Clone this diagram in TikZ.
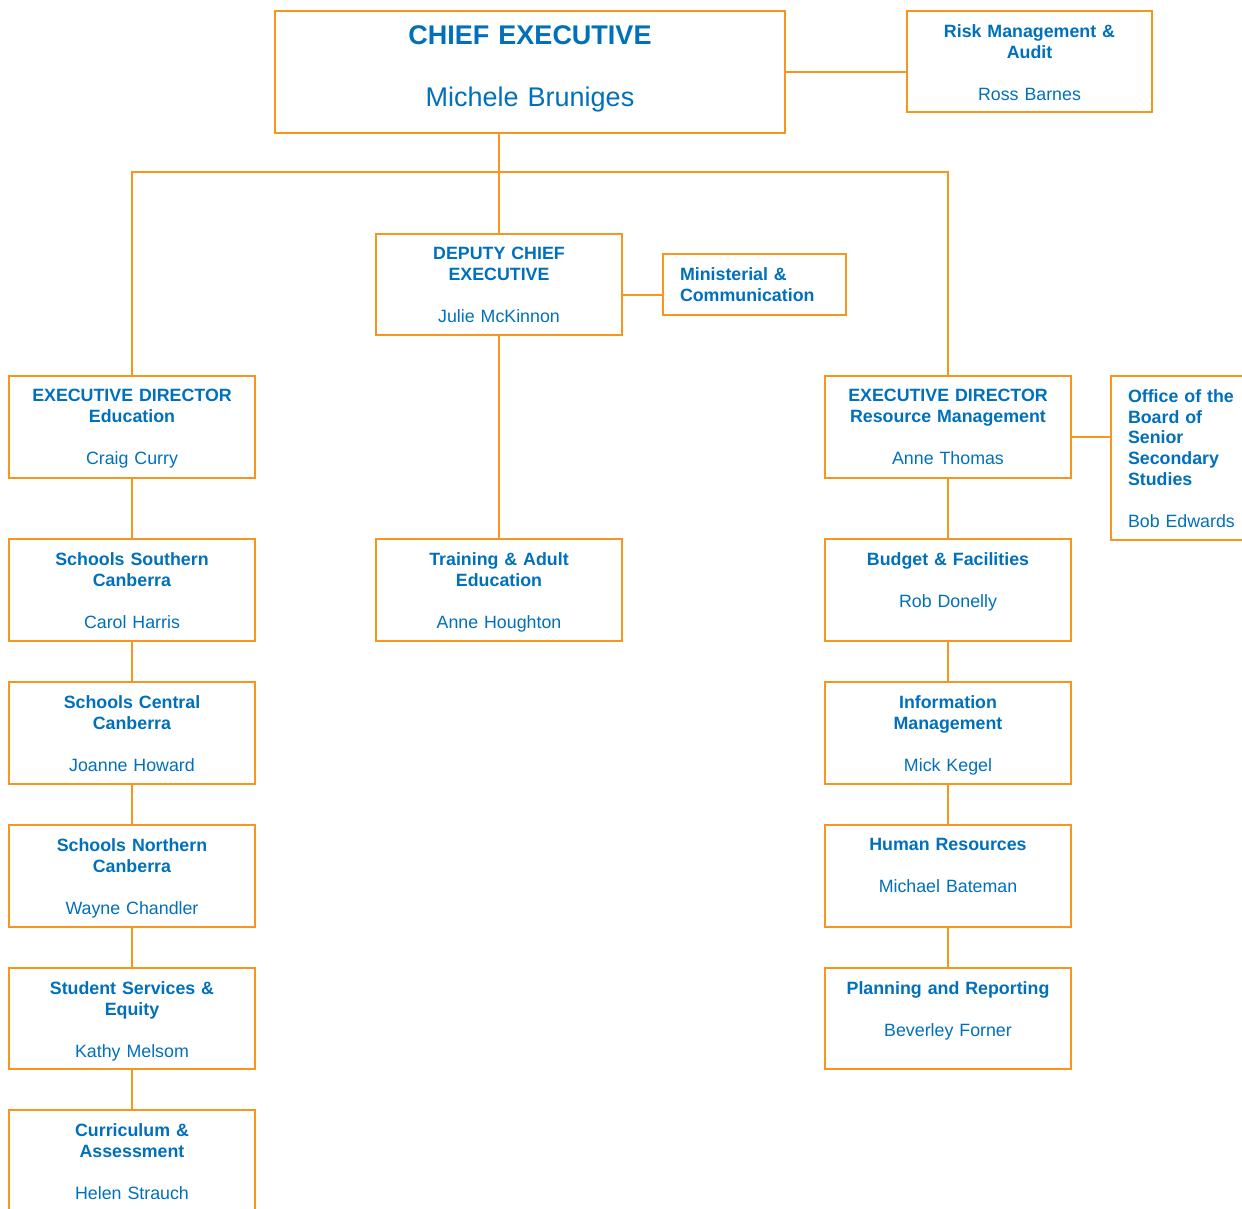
\documentclass[tikz,border=0pt]{standalone}
\usepackage{fontspec}
\setmainfont{Liberation Sans}
\definecolor{boxor}{RGB}{247,150,30}
\definecolor{txtblue}{RGB}{0,112,188}
\tikzset{
  unit/.style={draw=boxor, line width=1.6pt, fill=white, inner sep=0pt, outer sep=0pt},
  lbl/.style={anchor=north, inner sep=0pt, outer sep=0pt, text=txtblue,
    font=\fontsize{17.8}{20.7}\selectfont, align=center, text width=245pt},
  lbll/.style={lbl, anchor=north west, align=left},
  link/.style={draw=boxor, line width=1.8pt},
}
\newcommand{\gapname}{\\[21.3pt]}
\begin{document}
\begin{tikzpicture}[x=1pt,y=-1pt]
\clip (0,0) rectangle (1242,1208);
\fill[white] (0,0) rectangle (1242,1208);
% connectors
\coordinate (bus) at (499,172);
% boxes
\node[unit, minimum width=510pt, minimum height=122pt] (ce) at (530,72) {};
\node[unit, minimum width=245pt, minimum height=101pt] (risk) at (1029.5,61.5) {};
\node[unit, minimum width=246pt, minimum height=101pt] (dce) at (499,284.5) {};
\node[unit, minimum width=183pt, minimum height=61pt] (min) at (754.5,284.5) {};
\node[unit, minimum width=246pt, minimum height=102pt] (ede) at (132,427) {};
\node[unit, minimum width=246pt, minimum height=102pt] (edr) at (948,427) {};
\node[unit, minimum width=151pt, minimum height=164pt] (obs) at (1186.5,458) {};
\node[unit, minimum width=246pt, minimum height=102pt] (ssc) at (132,590) {};
\node[unit, minimum width=246pt, minimum height=102pt] (tae) at (499,590) {};
\node[unit, minimum width=246pt, minimum height=102pt] (bf) at (948,590) {};
\node[unit, minimum width=246pt, minimum height=102pt] (scc) at (132,733) {};
\node[unit, minimum width=246pt, minimum height=102pt] (im) at (948,733) {};
\node[unit, minimum width=246pt, minimum height=102pt] (snc) at (132,876) {};
\node[unit, minimum width=246pt, minimum height=102pt] (hr) at (948,876) {};
\node[unit, minimum width=246pt, minimum height=101pt] (sse) at (132,1018.5) {};
\node[unit, minimum width=246pt, minimum height=101pt] (pr) at (948,1018.5) {};
\node[unit, minimum width=246pt, minimum height=150pt] (ca) at (132,1185) {};
% links
\draw[link] (ce.south -| dce.north) -- (dce.north);
\draw[link] (ede.north) -- (ede.north |- bus) -- (edr.north |- bus) -- (edr.north);
\draw[link] (ce.east) -- (ce.east -| risk.west);
\draw[link] ([yshift=-10.5pt]dce.east) -- ([yshift=-10.5pt]dce.east -| min.west);
\draw[link] (dce.south) -- (tae.north);
\draw[link] ([yshift=-10pt]edr.east) -- ([yshift=-10pt]edr.east -| obs.west);
\draw[link] (ede.south) -- (ssc.north);
\draw[link] (ssc.south) -- (scc.north);
\draw[link] (scc.south) -- (snc.north);
\draw[link] (snc.south) -- (sse.north);
\draw[link] (sse.south) -- (ca.north);
\draw[link] (edr.south) -- (bf.north);
\draw[link] (bf.south) -- (im.north);
\draw[link] (im.south) -- (hr.north);
\draw[link] (hr.south) -- (pr.north);
% labels
\node[lbl, text width=510pt, font=\fontsize{27}{31}\selectfont] (tce) at ([yshift=-14.5pt]ce.north)
  {\textbf{CHIEF EXECUTIVE}\\[31.4pt]Michele Bruniges};
\node[lbl] (trisk) at ([yshift=-13.5pt]risk.north) {\textbf{Risk Management \&\\Audit}\gapname Ross Barnes};
\node[lbl] (tdce) at ([yshift=-13.5pt]dce.north) {\textbf{DEPUTY CHIEF\\EXECUTIVE}\gapname Julie McKinnon};
\node[lbll, text width=166pt] (tmin) at ([xshift=17pt,yshift=-13.5pt]min.north west) {\textbf{Ministerial \&\\Communication}};
\node[lbl] (tede) at ([yshift=-13.5pt]ede.north) {\textbf{EXECUTIVE DIRECTOR\\Education}\gapname Craig Curry};
\node[lbl] (tedr) at ([yshift=-13.5pt]edr.north) {\textbf{EXECUTIVE DIRECTOR\\Resource Management}\gapname Anne Thomas};
\node[lbll, text width=130pt] (tobs) at ([xshift=17pt,yshift=-13.5pt]obs.north west) {\textbf{Office of the\\Board of\\Senior\\Secondary\\Studies}\gapname Bob Edwards};
\node[lbl] (tssc) at ([yshift=-13.5pt]ssc.north) {\textbf{Schools Southern\\Canberra}\gapname Carol Harris};
\node[lbl] (ttae) at ([yshift=-13.5pt]tae.north) {\textbf{Training \& Adult\\Education}\gapname Anne Houghton};
\node[lbl] (tbf) at ([yshift=-13.5pt]bf.north) {\textbf{Budget \& Facilities}\gapname Rob Donelly};
\node[lbl] (tscc) at ([yshift=-13.5pt]scc.north) {\textbf{Schools Central\\Canberra}\gapname Joanne Howard};
\node[lbl] (tim) at ([yshift=-13.5pt]im.north) {\textbf{Information\\Management}\gapname Mick Kegel};
\node[lbl] (tsnc) at ([yshift=-13.5pt]snc.north) {\textbf{Schools Northern\\Canberra}\gapname Wayne Chandler};
\node[lbl] (thr) at ([yshift=-13.5pt]hr.north) {\textbf{Human Resources}\gapname Michael Bateman};
\node[lbl] (tsse) at ([yshift=-13.5pt]sse.north) {\textbf{Student Services \&\\Equity}\gapname Kathy Melsom};
\node[lbl] (tpr) at ([yshift=-13.5pt]pr.north) {\textbf{Planning and Reporting}\gapname Beverley Forner};
\node[lbl] (tca) at ([yshift=-13.5pt]ca.north) {\textbf{Curriculum \&\\Assessment}\gapname Helen Strauch};
\end{tikzpicture}
\end{document}
